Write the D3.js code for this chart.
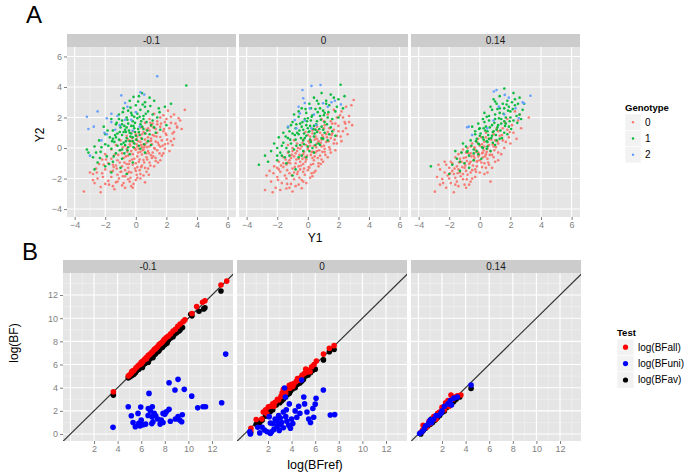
<!DOCTYPE html>
<html><head><meta charset="utf-8">
<script src="https://cdn.jsdelivr.net/npm/d3@7/dist/d3.min.js"></script>
<style>body{margin:0;background:#fff;} svg{display:block;font-family:"Liberation Sans",Arial,sans-serif;}</style>
</head><body><svg id="c" width="686" height="475"></svg>
<script>
// ---------- DATA ----------
const facets = ["-0.1", "0", "0.14"];
const genotypes = ["0", "1", "2"];
const genoColors = ["#F8766D", "#00BA38", "#619CFF"];
const tests = ["log(BFall)", "log(BFuni)", "log(BFav)"];
const testColors = ["#FF0000", "#0000FF", "#000000"];
const aTicks = [-4, -2, 0, 2, 4, 6];
const aMinor = [-3, -1, 1, 3, 5];
const bTicksX = [2, 4, 6, 8, 10, 12];
const bTicksY = [0, 2, 4, 6, 8, 10, 12];
const bMajorGrid = [0, 2, 4, 6, 8, 10, 12];
const bMinor = [1, 3, 5, 7, 9, 11, 13];

// Panel A, facet -0.1
const a1g0 = [[3.2,2.5],[2.1,2.45],[2.5,2.2],[1.8,2.15],[1.2,2.25],[2.8,1.95],[1.6,2.0],[0.9,1.9],[2.3,2.05],[1.9,1.7],[1.4,1.75],[0.6,1.65],[2.6,1.6],[1.1,1.6],[0.3,1.35],[1.0,1.45],[1.6,1.4],[2.2,1.3],[2.7,1.35],[0.7,1.2],[1.3,1.25],[-0.2,1.1],[0.5,1.05],[0.9,1.15],[1.4,1.0],[1.8,1.1],[2.4,0.95],[1.1,0.85],[0.2,1.0],[-0.6,0.8],[0.1,0.75],[0.4,0.9],[0.8,0.7],[1.2,0.8],[1.6,0.72],[2.0,0.85],[2.5,0.6],[0.6,0.55],[1.0,0.62],[-1.0,0.5],[-0.3,0.45],[0.0,0.55],[0.3,0.4],[0.7,0.35],[1.0,0.48],[1.3,0.42],[1.7,0.5],[2.1,0.3],[0.5,0.25],[1.5,0.2],[-1.3,0.2],[-0.7,0.15],[-0.4,0.25],[0.1,0.1],[0.4,0.05],[0.6,0.18],[0.9,0.12],[1.2,0.0],[1.6,0.08],[1.9,-0.05],[0.2,-0.05],[-0.1,0.0],[-1.6,-0.1],[-1.0,-0.15],[-0.6,-0.05],[-0.3,-0.2],[0.0,-0.12],[0.3,-0.25],[0.5,-0.1],[0.8,-0.2],[1.1,-0.3],[1.4,-0.15],[1.8,-0.35],[2.2,-0.2],[-2.0,-0.4],[-1.4,-0.45],[-0.9,-0.35],[-0.5,-0.5],[-0.2,-0.4],[0.1,-0.55],[0.4,-0.42],[0.7,-0.6],[1.0,-0.48],[1.3,-0.65],[1.7,-0.5],[-0.1,-0.7],[-2.2,-0.75],[-1.6,-0.7],[-1.2,-0.8],[-0.8,-0.65],[-0.4,-0.85],[0.2,-0.9],[0.5,-0.78],[0.9,-0.95],[1.3,-0.85],[0.0,-1.0],[-0.6,-1.05],[-2.4,-1.05],[-1.8,-1.0],[-1.3,-1.15],[-0.9,-1.2],[-0.5,-1.3],[-0.2,-1.1],[0.1,-1.25],[0.4,-1.15],[0.8,-1.35],[1.2,-1.2],[-0.7,-1.45],[-2.6,-1.35],[-2.0,-1.4],[-1.5,-1.5],[-1.0,-1.55],[-0.3,-1.6],[0.0,-1.5],[0.3,-1.7],[0.7,-1.55],[-1.2,-1.75],[-2.8,-1.7],[-2.2,-1.65],[-1.6,-1.9],[-1.1,-2.0],[-0.7,-1.85],[0.1,-1.95],[0.5,-1.8],[-0.5,-2.05],[-2.5,-2.0],[-1.8,-2.15],[-1.3,-2.25],[-0.8,-2.3],[-0.4,-2.2],[0.0,-2.1],[0.6,-2.25],[-2.7,-2.3],[-2.0,-2.35],[-1.5,-2.5],[-0.9,-2.45],[-0.2,-2.6],[-1.2,-2.2],[-2.3,-2.55],[-1.4,-2.7],[-0.3,-2.5],[-3.4,-2.85],[-2.3,-2.9],[-2.8,-2.1],[-3.0,-1.6],[2.7,1.4],[2.5,1.05],[2.9,1.8],[3.0,1.25],[2.3,0.45],[1.9,0.25]];
const a1g0core = [[0.15,-0.3],[0.45,-0.15],[0.75,0.05],[1.05,0.25],[0.35,0.65],[-0.15,0.35],[0.85,-0.35],[1.15,-0.55],[0.55,-0.95],[-0.25,-0.75],[-0.55,-0.25],[0.05,0.25],[1.45,0.35],[1.75,0.15],[0.65,0.95],[1.15,1.35],[-0.45,-1.55],[-0.85,-1.85],[-1.05,-0.95],[-1.45,-1.25],[0.25,-1.45],[0.95,-1.15],[1.55,-0.35],[2.05,0.55],[-0.05,-1.35],[-0.35,-1.95],[-1.65,-1.55],[-1.95,-0.75],[0.65,-0.35],[0.25,-0.75],[-0.65,-0.55],[0.95,0.45],[1.35,0.75],[1.85,1.25],[0.45,1.35],[-0.35,0.15],[0.15,0.45],[0.55,0.05],[1.25,-0.05],[-0.95,-1.55],[-0.15,-2.35],[-1.25,-1.35],[-0.75,-0.95],[0.35,-1.25],[0.75,-0.75],[1.45,-0.95],[-0.05,-0.05],[0.35,0.2],[-0.45,-1.05],[-1.75,-2.4],[-2.15,-1.9],[-2.55,-1.6],[0.85,-1.75],[1.65,1.6],[2.3,1.65],[0.05,-1.75],[-0.55,-1.65],[1.05,-0.65],[0.6,-1.3],[-1.15,-0.45],[-0.85,0.05],[1.95,0.95],[-0.25,0.65],[0.95,1.65],[0.3,-2.0],[-1.5,-1.1],[-2.1,-1.1],[-0.7,-2.6],[1.6,-0.8],[2.4,0.2],[0.0,0.9],[-0.5,0.55],[0.8,1.3],[1.4,1.55],[2.0,1.9]];
const a1g1 = [[3.3,4.1],[0.4,3.6],[0.2,3.4],[0.9,3.3],[-0.4,3.1],[0.6,3.0],[1.2,3.1],[1.9,2.7],[2.3,2.9],[1.5,2.6],[0.0,2.8],[-0.8,2.6],[0.3,2.5],[0.8,2.4],[-0.3,2.3],[1.1,2.2],[-1.1,2.2],[0.5,2.1],[-0.6,2.0],[0.1,1.95],[1.4,2.0],[-1.6,1.9],[-0.9,1.8],[-0.2,1.75],[0.7,1.7],[-1.3,1.55],[-0.5,1.6],[0.3,1.55],[1.0,1.5],[-2.1,1.4],[-1.0,1.35],[-0.1,1.3],[0.5,1.25],[-0.7,1.2],[-1.5,1.15],[0.2,1.05],[-0.4,1.0],[-1.2,0.95],[-2.0,0.9],[-0.9,0.85],[0.0,0.8],[-0.2,0.7],[-1.7,0.7],[-0.6,0.65],[0.4,0.6],[-1.1,0.55],[-2.4,0.5],[-0.4,0.45],[0.8,0.45],[-1.4,0.4],[-0.8,0.35],[-2.0,0.25],[-0.1,0.3],[-1.2,0.15],[-2.7,0.1],[-0.5,0.05],[-1.6,-0.05],[-0.9,-0.1],[0.3,-0.05],[-3.1,-0.3],[-2.3,-0.25],[-1.3,-0.35],[-0.4,-0.4],[-2.8,-0.6],[-1.9,-0.55],[-0.9,-0.7],[-2.5,-0.95],[-1.5,-0.9],[-0.2,-0.95],[-2.0,-1.2],[-1.0,-1.3],[-2.7,-1.4],[-1.6,-1.6],[-0.6,-1.7],[0.6,-0.3],[1.0,0.2],[1.3,1.0],[0.9,0.9],[-0.3,1.45],[-0.9,1.55],[0.1,2.25],[-0.5,2.45],[-1.3,0.7],[0.6,0.95],[-0.7,0.2],[-1.8,0.15],[1.6,1.2],[2.0,1.5],[-3.2,-0.1],[-2.6,-0.3],[-1.1,1.9],[-0.2,0.45],[0.2,0.15],[-0.6,1.35],[-1.5,0.6],[-0.8,1.05],[0.5,1.9],[1.1,1.8],[-0.1,2.05],[0.6,2.7],[0.4,1.4],[-0.3,0.95]];
const a1g1core = [[-0.45,1.15],[-0.15,1.45],[0.15,1.25],[-0.75,1.45],[-1.05,1.05],[-0.35,0.75],[0.05,0.55],[-0.65,0.45],[-0.95,0.25],[-1.35,0.85],[0.35,1.75],[-0.25,2.15],[0.65,2.25],[-0.55,1.85],[-1.25,1.65],[0.25,0.85],[-0.05,1.05],[0.45,2.85],[-0.15,3.35],[0.95,2.75],[-1.85,1.15],[-1.55,0.45],[-2.25,0.05],[-1.05,-0.15],[-0.55,-0.15],[-0.15,0.05],[0.75,1.15],[1.2,1.35],[1.55,2.35],[0.15,3.05],[-0.85,2.35],[-0.35,2.65],[-1.45,-0.55],[-2.35,-0.65],[-1.75,-1.05],[-0.75,-0.35],[0.55,0.25],[-0.05,1.65],[0.25,2.05],[-0.65,1.05]];
const a1g2 = [[1.4,4.7],[-3.2,2.05],[-2.5,2.4],[-3.1,1.25],[-2.75,1.4],[-1.9,1.95],[-1.6,2.25],[-0.95,3.45],[-0.7,2.95],[-0.55,2.7],[0.3,3.65],[0.55,3.5],[-2.25,0.5],[-1.9,0.9],[-1.6,1.7],[-1.35,1.2],[-1.05,1.5],[-0.7,1.85],[-0.3,1.85],[0.25,1.4],[-3.0,-0.5],[-2.05,1.0],[-0.2,1.15],[-1.2,2.1],[0.0,2.35]];

// Panel A, facet 0
const a2g0 = [[3.0,3.15],[2.85,2.8],[2.5,2.7],[2.2,2.4],[1.7,2.5],[2.7,2.1],[1.9,2.0],[1.3,2.2],[2.4,1.7],[1.5,1.75],[0.9,1.9],[2.9,1.5],[2.0,1.45],[1.1,1.5],[0.6,1.4],[1.7,1.2],[2.3,1.1],[0.3,1.15],[1.3,1.05],[0.8,1.0],[2.6,0.9],[1.9,0.8],[0.0,0.85],[0.5,0.75],[1.0,0.7],[1.5,0.65],[-0.3,0.55],[0.2,0.5],[0.7,0.45],[1.2,0.4],[1.7,0.3],[2.2,0.45],[-0.7,0.3],[-0.1,0.2],[0.4,0.15],[0.9,0.1],[1.4,0.05],[-1.0,0.0],[-0.5,-0.05],[0.0,-0.1],[0.6,-0.2],[1.1,-0.25],[1.8,-0.15],[-1.3,-0.3],[-0.8,-0.35],[-0.3,-0.4],[0.2,-0.45],[0.8,-0.5],[1.3,-0.6],[-1.6,-0.6],[-1.1,-0.65],[-0.6,-0.7],[-0.1,-0.75],[0.4,-0.8],[1.0,-0.9],[-1.9,-0.9],[-1.3,-0.95],[-0.8,-1.0],[-0.3,-1.05],[0.2,-1.1],[0.7,-1.2],[-2.2,-1.2],[-1.6,-1.25],[-1.0,-1.35],[-0.5,-1.4],[0.0,-1.45],[0.5,-1.5],[-2.5,-1.5],[-1.8,-1.55],[-1.2,-1.65],[-0.7,-1.7],[-0.2,-1.75],[0.3,-1.85],[-2.0,-1.9],[-1.4,-2.0],[-0.9,-2.05],[-0.4,-2.1],[-2.4,-2.2],[-1.7,-2.3],[-1.1,-2.35],[-0.6,-2.4],[-2.1,-2.6],[-1.4,-2.65],[-0.4,-2.64],[-2.8,-2.75],[-1.0,-2.85],[0.4,-1.6],[1.1,-0.05],[0.1,0.35],[-0.4,0.1],[1.6,0.95],[2.0,1.1],[0.5,-0.3],[-0.2,-0.6],[-0.9,-0.55],[0.9,-0.75],[-1.4,-1.1],[0.1,-1.3],[-0.6,-1.2],[-1.0,-0.2],[1.2,0.9],[0.3,0.95],[1.8,1.6],[2.3,2.0],[0.7,-1.0],[-0.3,-1.55],[-1.5,-1.8],[0.6,0.3],[-2.7,-1.8],[-1.9,-1.4],[-0.1,-2.3],[1.5,-0.3],[2.5,1.3],[0.0,0.0],[0.9,0.55],[-0.7,-0.2],[-1.2,-0.8],[0.3,-0.65],[-0.5,-0.9],[-2.3,-2.9],[-1.8,-2.75],[-0.8,-2.5],[1.4,1.3],[2.1,2.15]];
const a2g0core = [[0.25,-0.25],[0.55,0.05],[0.85,0.35],[0.15,0.15],[-0.25,-0.25],[-0.55,-0.45],[0.45,-0.55],[0.75,-0.15],[1.05,0.15],[1.35,0.45],[1.55,0.85],[0.95,0.85],[0.45,0.55],[-0.15,-0.9],[-0.45,-1.15],[-0.85,-1.25],[-1.15,-1.0],[0.05,-1.25],[0.35,-1.05],[0.65,-0.65],[1.15,-0.45],[-0.75,-0.75],[-1.05,-0.45],[-0.35,0.35],[0.15,0.75],[0.65,1.15],[1.05,1.3],[1.75,0.55],[2.15,0.75],[-1.45,-0.75],[-1.75,-1.15],[-1.35,-1.45],[-0.65,-1.55],[-0.25,-1.35],[0.25,-1.65],[-1.05,-1.8],[-0.55,-1.95],[-1.95,-2.1],[-1.35,-2.35],[-2.25,-1.65],[0.85,-1.05],[1.45,-0.1],[1.9,0.3],[2.45,1.6],[1.6,1.6],[0.05,0.45],[-0.65,0.0],[0.35,-0.25],[0.6,0.6],[1.25,0.7],[-0.05,-0.5],[-0.35,-0.7],[0.95,-0.25],[-1.6,-1.0],[-2.0,-1.3],[-0.9,-1.6],[-0.3,-2.2],[0.15,-1.95],[-1.2,-2.6],[2.7,1.7],[1.05,1.75],[0.45,1.25],[-0.15,1.05],[-0.9,0.5],[-1.3,0.2]];
const a2g1 = [[2.14,4.15],[1.5,3.5],[1.7,3.3],[0.9,3.6],[0.4,3.3],[1.2,3.1],[2.0,3.2],[2.4,3.4],[0.7,2.9],[1.4,2.8],[0.1,2.9],[-0.4,2.6],[0.5,2.55],[1.0,2.45],[1.8,2.4],[-0.1,2.3],[0.3,2.15],[0.8,2.1],[1.3,2.0],[-0.6,2.05],[-0.2,1.9],[0.2,1.8],[0.6,1.75],[1.1,1.7],[-1.0,1.7],[-0.5,1.6],[-0.1,1.5],[0.4,1.45],[0.9,1.4],[1.5,1.35],[-1.3,1.35],[-0.8,1.3],[-0.3,1.2],[0.1,1.1],[0.6,1.05],[1.1,1.0],[-1.6,1.0],[-1.0,0.95],[-0.6,0.9],[-0.1,0.8],[0.4,0.75],[0.9,0.65],[-1.9,0.7],[-1.3,0.65],[-0.8,0.55],[-0.3,0.5],[0.2,0.4],[-1.1,0.3],[-1.6,0.35],[-0.5,0.2],[0.0,0.1],[-2.2,0.3],[-1.4,0.0],[-0.9,-0.1],[-0.3,-0.2],[-2.4,-0.2],[-1.8,-0.3],[-1.2,-0.5],[-0.6,-0.6],[-2.0,-0.8],[-1.4,-1.0],[-0.8,-1.4],[-2.6,-0.9],[-3.2,-1.1],[-1.0,-1.8],[0.4,-0.3],[0.8,0.2],[1.3,0.5],[1.6,1.9],[2.3,2.6],[0.0,1.95],[-0.7,1.0],[0.5,1.2],[-0.2,0.65],[0.8,2.6],[0.2,2.6],[1.1,2.3],[-1.2,1.1],[-0.4,1.4],[0.7,0.3],[-2.0,0.0],[-0.9,2.2],[1.9,2.7],[1.0,1.2],[-0.1,-0.6],[-1.7,-0.5],[0.3,0.0],[-2.8,-0.5],[1.8,0.8],[0.0,1.3]];
const a2g1core = [[0.05,1.05],[0.35,1.25],[-0.25,0.95],[-0.55,1.15],[0.15,1.45],[0.55,1.55],[0.85,1.85],[-0.35,1.7],[-0.75,1.55],[0.25,2.05],[0.65,2.35],[1.05,2.15],[-0.15,2.55],[0.45,0.95],[-0.45,0.65],[-0.85,0.85],[-1.15,0.55],[0.15,0.55],[0.75,1.25],[1.25,1.55],[1.35,2.35],[-0.05,1.75],[-1.45,0.75],[-1.7,0.15],[-1.25,-0.25],[-0.75,0.15],[-0.25,0.25],[0.5,0.2],[1.0,0.6],[1.6,1.1],[2.0,2.0],[1.2,2.9],[0.6,3.1],[-0.6,2.4],[-1.1,1.5],[-2.0,-0.5],[-1.5,-0.6],[-0.4,-0.5],[0.1,-0.2],[1.4,0.9]];
const a2g2 = [[0.24,4.07],[0.83,4.13],[-0.35,3.8],[-0.3,3.26],[-0.2,2.95],[0.13,2.6],[-0.52,2.27],[-0.85,1.84],[-1.29,1.4],[1.0,2.93],[1.55,3.0],[1.77,3.1],[2.16,2.86],[1.3,2.7],[0.24,1.29],[0.55,1.5],[-0.2,1.8],[-0.75,1.29],[-0.6,2.7],[0.4,2.2]];

// Panel A, facet 0.14
const a3g0 = [[3.2,2.0],[2.5,1.8],[2.1,1.5],[2.7,1.3],[1.8,1.9],[1.5,1.3],[2.2,1.0],[1.2,1.1],[1.9,0.7],[0.9,0.9],[1.5,0.5],[0.6,0.6],[1.2,0.3],[2.4,0.6],[0.3,0.4],[0.9,0.1],[1.6,0.0],[0.0,0.15],[0.5,-0.05],[1.2,-0.3],[-0.3,-0.1],[0.2,-0.3],[0.8,-0.45],[-0.6,-0.35],[-0.1,-0.55],[0.5,-0.7],[1.0,-0.9],[-0.9,-0.6],[-0.4,-0.8],[0.1,-0.95],[-1.2,-0.9],[-0.7,-1.05],[-0.2,-1.2],[0.4,-1.3],[-1.5,-1.2],[-1.0,-1.3],[-0.5,-1.45],[0.0,-1.6],[-1.8,-1.5],[-1.3,-1.6],[-0.8,-1.75],[-0.3,-1.9],[-2.1,-1.8],[-1.6,-1.95],[-1.1,-2.05],[-0.6,-2.2],[-2.46,-2.03],[-1.9,-2.3],[-1.4,-2.5],[-0.9,-2.6],[-2.2,-2.6],[-2.94,-2.86],[-1.7,-2.9],[0.7,-2.2],[-2.6,-1.4],[-2.2,-1.1],[-1.6,-0.6],[-1.9,-0.9],[-1.2,-0.3],[-0.8,0.0],[-0.5,0.3],[0.1,0.7],[0.4,1.0],[0.7,-0.2],[-0.2,0.4],[1.3,0.8],[1.0,0.5],[1.8,1.2],[0.3,-1.0],[-0.1,-0.3],[0.6,0.2],[-0.6,-0.9],[-1.0,-1.0],[-1.4,-1.4],[-0.3,-1.4],[0.2,-0.6],[0.9,-0.6],[-0.9,-0.3],[-0.4,-0.5],[0.0,-0.8],[-1.1,-1.7],[-0.5,-2.0],[-1.7,-1.7],[-2.4,-2.3],[1.4,-0.4],[2.0,0.3],[0.8,-1.3],[-0.7,-2.4],[-2.0,-1.3],[0.3,0.1],[1.1,1.3],[2.3,2.4],[-1.3,-0.7],[-0.2,-0.9],[0.4,-0.4],[-2.8,-1.9],[-1.5,-2.2],[-0.9,-1.5],[0.6,-1.1],[1.7,0.4]];
const a3g0core = [[-0.05,-0.45],[0.25,-0.15],[0.55,0.15],[-0.35,-0.65],[-0.65,-0.95],[-0.95,-1.15],[0.15,-0.35],[0.45,-0.25],[0.85,0.25],[1.05,0.05],[-0.25,-0.25],[-0.55,-0.55],[-0.85,-0.85],[-1.15,-1.25],[-1.45,-1.65],[-0.45,-1.15],[-0.15,-0.85],[0.35,-0.55],[0.65,-0.45],[1.15,0.45],[1.45,0.85],[0.75,0.55],[0.15,0.25],[-0.35,0.05],[-0.75,-0.35],[-1.05,-0.65],[-1.35,-0.95],[-1.65,-1.35],[-1.95,-1.65],[-1.25,-1.85],[-0.85,-2.05],[-0.25,-1.55],[0.15,-1.25],[0.55,-0.95],[-2.3,-1.6],[-2.0,-2.0],[-1.6,-2.4],[-2.6,-2.4],[-1.0,-2.4],[0.3,-1.7],[-0.6,-1.6],[-1.1,-0.1],[-1.4,-0.4],[-2.3,-0.9],[-2.7,-1.1],[1.65,1.65],[1.95,1.05],[2.6,2.2],[0.95,-0.15],[-0.1,0.6],[0.4,0.7],[-0.6,0.1],[-1.8,-1.0],[1.2,-0.8],[0.5,-1.6]];
const a3g1 = [[1.6,3.9],[2.2,3.6],[1.3,3.4],[2.6,3.3],[1.8,3.1],[2.9,2.9],[1.1,2.9],[2.3,2.8],[1.6,2.6],[0.8,2.5],[2.0,2.4],[1.3,2.3],[2.6,2.2],[0.6,2.1],[1.7,2.0],[1.0,1.9],[2.2,1.8],[0.3,1.7],[1.4,1.6],[0.8,1.5],[1.9,1.4],[0.0,1.3],[1.1,1.2],[0.5,1.1],[1.6,1.0],[-0.3,0.9],[0.8,0.8],[0.2,0.7],[1.3,0.6],[-0.6,0.5],[0.5,0.4],[-0.1,0.3],[1.0,0.2],[-0.9,0.1],[0.2,0.0],[-0.4,-0.1],[0.7,-0.2],[-1.2,-0.3],[-0.1,-0.4],[-0.7,-0.5],[-1.5,-0.7],[-0.4,-0.8],[-1.0,-1.0],[-1.8,-1.1],[-0.7,-1.3],[-1.3,-1.5],[-3.2,-1.2],[-2.0,-1.7],[0.3,2.3],[0.9,3.2],[2.8,2.5],[-0.5,1.4],[0.0,0.8],[1.5,2.9],[1.9,2.7],[0.6,1.8],[1.2,1.5],[0.4,1.4],[-0.2,0.6],[0.9,1.1],[1.7,1.6],[2.4,2.1],[-0.8,-0.2],[0.1,-0.7],[1.1,0.5],[-1.1,0.3],[0.7,2.7],[1.4,1.9],[2.0,2.0],[-0.3,1.1],[0.5,0.1],[1.8,0.9],[-1.6,-0.2],[2.3,3.2],[0.2,1.9],[0.6,0.6],[1.3,2.6],[-0.1,1.6],[2.7,1.9],[1.0,2.2]];
const a3g1core = [[0.55,0.85],[0.85,1.05],[1.15,1.35],[0.25,0.55],[-0.05,0.25],[0.45,0.45],[0.75,0.65],[1.05,0.85],[1.35,1.15],[1.65,1.45],[1.95,1.75],[0.35,1.15],[0.65,1.35],[0.95,1.65],[1.25,1.95],[1.55,2.25],[1.85,2.45],[2.15,2.55],[0.05,0.95],[-0.25,0.45],[-0.55,0.15],[-0.85,-0.25],[0.15,0.05],[0.45,-0.05],[0.85,0.35],[1.45,0.65],[2.05,1.25],[2.45,1.65],[1.75,2.85],[1.15,2.55],[0.45,2.05],[-0.05,1.25],[2.5,2.9],[2.1,3.0],[1.0,3.05],[-0.4,-0.35],[-1.3,-0.9],[-0.2,-0.2],[0.25,1.3],[1.6,1.75]];
const a3g2 = [[1.09,3.8],[1.63,3.48],[1.9,3.3],[3.31,3.43],[2.88,2.93],[2.33,2.6],[2.55,1.95],[-0.72,1.4],[-0.5,0.85],[0.48,1.29],[1.24,2.71],[0.92,3.7],[2.8,3.0],[-0.83,1.36],[1.6,2.2],[0.9,1.8]];

// Panel B, facet -0.1
const b1all = [[3.64,3.65],[4.9,5.0],[5.0,5.1],[5.15,5.25],[5.3,5.45],[5.4,5.5],[5.55,5.7],[5.65,5.8],[5.8,5.95],[5.9,6.0],[6.0,6.2],[6.1,6.25],[6.2,6.35],[6.3,6.45],[6.4,6.55],[6.5,6.65],[6.6,6.8],[6.7,6.85],[6.8,6.95],[6.9,7.05],[7.0,7.15],[7.1,7.3],[7.2,7.35],[7.3,7.45],[7.4,7.55],[7.5,7.7],[7.6,7.8],[7.7,7.85],[7.8,7.95],[7.9,8.1],[8.0,8.2],[8.15,8.35],[8.3,8.45],[8.5,8.65],[8.7,8.9],[8.9,9.05],[9.1,9.3],[9.3,9.5],[9.55,9.7],[9.7,9.85],[10.3,10.4],[10.7,11.0],[11.2,11.37],[11.4,11.5],[12.76,12.87],[13.25,13.2],[6.05,6.1],[6.45,6.5],[7.25,7.4],[5.2,5.4]];
const b1uni = [[13.16,6.9],[3.61,0.58],[4.9,2.36],[5.96,2.33],[6.66,3.51],[8.36,4.43],[9.12,4.72],[8.86,3.8],[9.65,3.86],[10.28,3.27],[10.79,2.26],[11.24,2.35],[11.45,2.35],[12.82,2.7],[5.16,1.58],[5.73,1.78],[5.31,1.0],[5.5,0.63],[5.79,0.92],[6.15,0.8],[6.58,1.6],[6.77,1.99],[6.94,2.36],[6.92,1.5],[7.0,1.06],[6.38,0.86],[7.23,1.58],[7.7,1.2],[7.85,1.78],[8.13,1.93],[8.36,2.13],[8.47,1.1],[7.85,1.0],[7.6,0.86],[9.12,1.5],[9.26,1.21],[9.48,1.67],[9.43,1.06],[6.0,1.2],[7.1,1.8],[8.0,1.7],[6.6,2.2],[7.4,1.3],[5.9,0.7],[6.9,0.9],[8.9,1.3]];
const b1av = [[3.64,3.36],[4.9,4.85],[5.05,4.95],[5.2,5.05],[5.35,5.15],[5.5,5.3],[5.6,5.45],[5.8,5.6],[6.0,5.85],[6.2,6.0],[6.35,6.1],[6.5,6.3],[6.7,6.45],[6.85,6.6],[7.0,6.6],[7.2,6.9],[7.4,7.1],[7.6,7.35],[7.8,7.5],[8.0,7.7],[8.3,8.1],[8.5,8.3],[8.7,8.4],[9.0,8.75],[9.0,8.9],[9.3,9.0],[9.5,9.2],[10.2,10.33],[10.3,10.2],[10.9,10.6],[11.3,10.8],[11.4,10.9],[12.76,12.35],[6.1,5.75],[6.6,6.2],[7.5,7.2],[8.2,7.85],[5.4,5.2],[8.8,8.6],[9.2,8.9]];

// Panel B, facet 0
const b2all = [[0.53,0.26],[0.55,0.5],[1.0,1.25],[1.47,1.3],[1.6,1.9],[1.8,2.1],[2.03,2.36],[2.2,2.4],[2.4,2.6],[2.6,2.75],[2.8,3.0],[2.9,2.95],[3.1,3.25],[3.3,3.86],[3.5,3.55],[3.6,3.9],[3.8,4.2],[3.85,3.95],[4.0,4.3],[4.2,4.35],[4.4,4.55],[4.6,4.65],[4.8,4.9],[4.9,5.1],[5.1,5.25],[5.3,5.35],[5.4,5.5],[5.56,5.38],[5.7,5.8],[5.9,6.0],[6.1,6.3],[6.7,6.9],[7.2,7.4],[7.6,7.63],[3.2,3.55],[4.5,4.8],[2.5,2.4],[1.9,1.75],[4.1,4.1],[5.2,5.6]];
const b2uni = [[0.5,0.0],[0.45,0.2],[1.13,0.58],[1.5,0.58],[1.92,0.2],[2.3,0.2],[2.2,0.95],[2.76,1.1],[3.04,1.38],[2.76,0.66],[3.16,1.0],[3.6,1.1],[3.75,0.75],[3.9,0.5],[3.47,3.2],[3.4,3.97],[5.03,3.2],[4.3,2.0],[4.7,1.8],[4.44,1.45],[5.3,1.9],[5.45,1.3],[5.87,1.45],[6.0,2.58],[5.8,2.2],[4.85,4.66],[6.07,3.08],[6.69,3.8],[7.28,1.65],[7.65,1.68],[1.7,0.35],[2.2,0.05],[2.5,0.4],[2.9,1.6],[3.3,1.9],[3.0,0.8],[2.6,1.3],[3.5,1.5],[4.0,1.3],[3.8,2.6],[4.1,0.9],[1.3,0.1],[2.1,1.5],[2.95,0.3],[3.3,0.55],[4.6,2.4],[5.6,1.0],[3.55,2.1],[2.4,0.9],[5.1,2.6]];
const b2av = [[0.53,0.1],[1.0,0.85],[1.5,1.2],[1.8,1.55],[2.1,1.9],[2.4,2.1],[2.7,2.5],[3.0,2.7],[3.3,3.0],[3.5,3.2],[3.7,3.45],[3.9,3.7],[4.1,3.9],[4.3,4.0],[4.5,4.3],[4.7,4.4],[5.0,4.7],[5.2,5.0],[5.4,5.1],[5.6,5.3],[5.8,5.5],[6.0,5.6],[6.7,6.4],[7.2,7.1],[7.6,7.3],[2.2,1.95],[3.15,2.85],[4.85,4.55],[1.3,1.0],[3.8,3.5]];

// Panel B, facet 0.14
const b3all = [[0.2,0.15],[0.36,0.35],[0.4,0.75],[0.7,0.6],[0.9,1.1],[1.0,0.9],[1.3,1.5],[1.5,1.3],[1.63,1.78],[1.8,1.9],[2.0,2.3],[2.2,2.1],[2.42,2.65],[2.5,2.9],[2.6,2.4],[2.76,3.37],[2.9,3.0],[3.1,3.2],[3.3,3.3],[3.6,3.37],[2.3,2.7],[1.2,1.2]];
const b3uni = [[0.1,0.05],[0.3,0.2],[0.5,0.45],[0.6,0.7],[0.8,0.8],[1.0,1.2],[1.1,1.0],[1.3,1.3],[1.5,1.6],[1.7,1.6],[2.0,2.0],[2.2,2.4],[2.5,2.6],[2.7,2.9],[3.0,3.1],[3.3,3.2],[4.46,4.23],[0.9,1.0],[1.9,1.8],[2.8,2.5]];
const b3av = [[0.2,0.0],[0.4,0.3],[0.6,0.5],[0.8,0.7],[1.0,0.85],[1.2,1.0],[1.4,1.2],[1.6,1.4],[1.8,1.6],[2.0,1.85],[2.2,2.0],[2.4,2.3],[2.6,2.5],[2.8,2.6],[3.0,2.8],[3.2,3.0],[3.5,3.2],[4.46,3.94],[1.1,1.3],[2.9,3.1]];

const aSeries = [
  [a1g0.concat(a1g0core), a1g1.concat(a1g1core), a1g2],
  [a2g0.concat(a2g0core), a2g1.concat(a2g1core), a2g2],
  [a3g0.concat(a3g0core), a3g1.concat(a3g1core), a3g2]
];
const bSeries = [[b1all, b1uni, b1av], [b2all, b2uni, b2av], [b3all, b3uni, b3av]];

// ---------- LAYOUT ----------
const svg = d3.select("#c");
const FONT = '"Liberation Sans", Arial, sans-serif';
const PANEL_BG = "#E5E5E5", STRIP_BG = "#CCCCCC", TICK_COL = "#7F7F7F";

function drawPanel(g, w, h, xs, ys, xMaj, xMin, yMaj, yMin) {
  g.append("rect").attr("width", w).attr("height", h).attr("fill", PANEL_BG);
  const grid = g.append("g");
  xMin.forEach(v => grid.append("line").attr("x1", xs(v)).attr("x2", xs(v)).attr("y1", 0).attr("y2", h).attr("stroke", "#F2F2F2").attr("stroke-width", 0.6));
  yMin.forEach(v => grid.append("line").attr("y1", ys(v)).attr("y2", ys(v)).attr("x1", 0).attr("x2", w).attr("stroke", "#F2F2F2").attr("stroke-width", 0.6));
  xMaj.forEach(v => grid.append("line").attr("x1", xs(v)).attr("x2", xs(v)).attr("y1", 0).attr("y2", h).attr("stroke", "#FFFFFF").attr("stroke-width", 1.1));
  yMaj.forEach(v => grid.append("line").attr("y1", ys(v)).attr("y2", ys(v)).attr("x1", 0).attr("x2", w).attr("stroke", "#FFFFFF").attr("stroke-width", 1.1));
}
function drawStrip(g, w, h, label) {
  g.append("rect").attr("width", w).attr("height", h).attr("fill", STRIP_BG);
  g.append("text").attr("x", w / 2).attr("y", h / 2 + 3.6).attr("text-anchor", "middle")
    .attr("font-size", 10).attr("fill", "#1A1A1A").text(label);
}
function styleAxis(ax) {
  ax.select(".domain").remove();
  ax.selectAll(".tick line").attr("stroke", TICK_COL);
  ax.selectAll(".tick text").attr("fill", TICK_COL).attr("font-size", 9).attr("font-family", FONT);
}

// ---- Panel A ----
const aLefts = [67, 239, 411], aW = 169, aStripY = 34, aStripH = 13, aTop = 47, aH = 170;
const xA = d3.scaleLinear().domain([-4.5, 6.55]).range([0, aW]);
const yA = d3.scaleLinear().domain([-4.52, 6.62]).range([aH, 0]);

facets.forEach((f, i) => {
  drawStrip(svg.append("g").attr("transform", `translate(${aLefts[i]},${aStripY})`), aW, aStripH, f);
  const g = svg.append("g").attr("transform", `translate(${aLefts[i]},${aTop})`);
  drawPanel(g, aW, aH, xA, yA, aTicks, aMinor, aTicks, aMinor);
  aSeries[i].forEach((pts, k) => {
    g.append("g").selectAll("circle").data(pts).join("circle")
      .attr("cx", d => xA(d[0])).attr("cy", d => yA(d[1])).attr("r", 1.3)
      .attr("fill", genoColors[k]).attr("fill-opacity", 0.95);
  });
  const ax = svg.append("g").attr("transform", `translate(${aLefts[i]},${aTop + aH})`)
    .call(d3.axisBottom(xA).tickValues(aTicks).tickSize(3).tickPadding(2));
  styleAxis(ax);
});
styleAxis(svg.append("g").attr("transform", `translate(${aLefts[0]},${aTop})`)
  .call(d3.axisLeft(yA).tickValues(aTicks).tickSize(3).tickPadding(2)));

svg.append("text").attr("x", 315).attr("y", 242).attr("text-anchor", "middle").attr("font-size", 12).attr("fill", "#000").text("Y1");
svg.append("text").attr("transform", "translate(44,135) rotate(-90)").attr("text-anchor", "middle").attr("font-size", 12).attr("fill", "#000").text("Y2");
svg.append("text").attr("x", 26).attr("y", 23).attr("font-size", 24).attr("fill", "#000").text("A");

// Legend A
const legA = svg.append("g").attr("transform", "translate(625,0)");
legA.append("text").attr("x", 0).attr("y", 111).attr("font-size", 9.5).attr("font-weight", "bold").text("Genotype");
genotypes.forEach((gn, i) => {
  const y0 = 114 + i * 16.3;
  legA.append("rect").attr("x", 0).attr("y", y0).attr("width", 16).attr("height", 16.3).attr("fill", "#F2F2F2").attr("stroke", "#fff").attr("stroke-width", 0.6);
  legA.append("circle").attr("cx", 8).attr("cy", y0 + 8.15).attr("r", 1.2).attr("fill", genoColors[i]);
  legA.append("text").attr("x", 20).attr("y", y0 + 11.6).attr("font-size", 10).attr("fill", "#000").text(gn);
});

// ---- Panel B ----
const bLefts = [63, 237, 411], bW = 170, bStripY = 260, bStripH = 13, bTop = 273, bH = 168;
const xB = d3.scaleLinear().domain([-0.63, 13.78]).range([0, bW]);
const yB = d3.scaleLinear().domain([-0.6, 13.9]).range([bH, 0]);
const drawOrder = [2, 0, 1];

facets.forEach((f, i) => {
  drawStrip(svg.append("g").attr("transform", `translate(${bLefts[i]},${bStripY})`), bW, bStripH, f);
  const g = svg.append("g").attr("transform", `translate(${bLefts[i]},${bTop})`);
  drawPanel(g, bW, bH, xB, yB, bMajorGrid, bMinor, bMajorGrid, bMinor);
  const clipId = "clipB" + i;
  g.append("clipPath").attr("id", clipId).append("rect").attr("width", bW).attr("height", bH);
  const lo = Math.max(xB.domain()[0], yB.domain()[0]), hi = Math.min(xB.domain()[1], yB.domain()[1]);
  g.append("line").attr("clip-path", `url(#${clipId})`)
    .attr("x1", xB(lo - 1)).attr("y1", yB(lo - 1)).attr("x2", xB(hi + 1)).attr("y2", yB(hi + 1))
    .attr("stroke", "#333333").attr("stroke-width", 1.1);
  drawOrder.forEach(k => {
    g.append("g").selectAll("circle").data(bSeries[i][k]).join("circle")
      .attr("cx", d => xB(d[0])).attr("cy", d => yB(d[1])).attr("r", 2.8)
      .attr("fill", testColors[k]);
  });
  styleAxis(svg.append("g").attr("transform", `translate(${bLefts[i]},${bTop + bH})`)
    .call(d3.axisBottom(xB).tickValues(bTicksX).tickSize(3).tickPadding(2)));
});
styleAxis(svg.append("g").attr("transform", `translate(${bLefts[0]},${bTop})`)
  .call(d3.axisLeft(yB).tickValues(bTicksY).tickSize(3).tickPadding(2)));

svg.append("text").attr("x", 315).attr("y", 469).attr("text-anchor", "middle").attr("font-size", 12.5).attr("fill", "#000").text("log(BFref)");
svg.append("text").attr("transform", "translate(18,343) rotate(-90)").attr("text-anchor", "middle").attr("font-size", 12).attr("fill", "#000").text("log(BF)");
svg.append("text").attr("x", 22).attr("y", 260).attr("font-size", 24).attr("fill", "#000").text("B");

// Legend B
const legB = svg.append("g").attr("transform", "translate(617,0)");
legB.append("text").attr("x", 0).attr("y", 336).attr("font-size", 9.5).attr("font-weight", "bold").text("Test");
tests.forEach((t, i) => {
  const y0 = 339 + i * 16.4;
  legB.append("rect").attr("x", 0).attr("y", y0).attr("width", 17).attr("height", 16.4).attr("fill", "#F2F2F2").attr("stroke", "#fff").attr("stroke-width", 0.6);
  legB.append("circle").attr("cx", 8.5).attr("cy", y0 + 8.2).attr("r", 2.6).attr("fill", testColors[i]);
  legB.append("text").attr("x", 21).attr("y", y0 + 11.6).attr("font-size", 10).attr("fill", "#000").text(t);
});
</script></body></html>
